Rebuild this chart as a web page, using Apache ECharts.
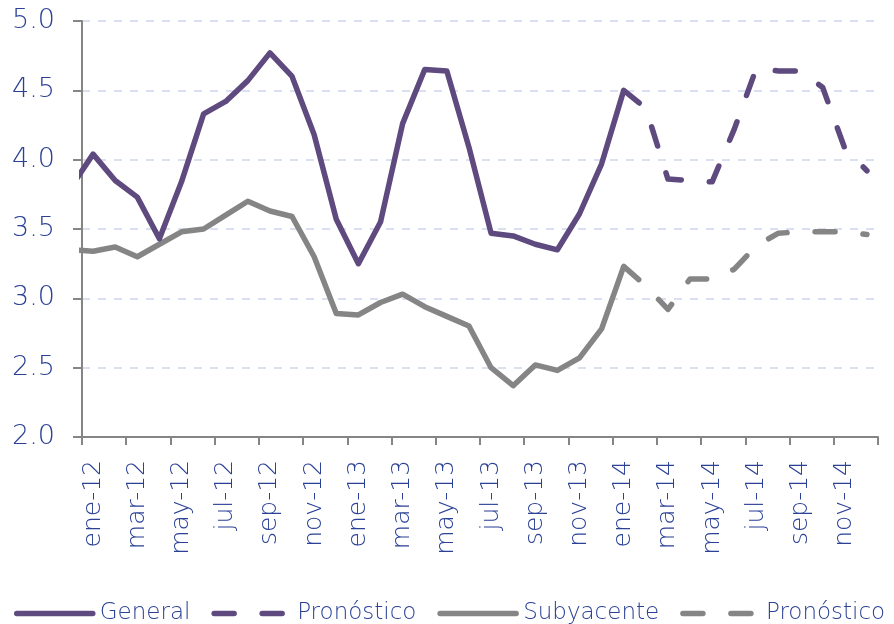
<!DOCTYPE html>
<html>
<head>
<meta charset="utf-8">
<script src="https://cdn.jsdelivr.net/npm/echarts@6/dist/echarts.min.js"></script>
<style>
  html, body { margin: 0; padding: 0; background: #fff; }
  #main { width: 894px; height: 624px; }
</style>
</head>
<body>
<div id="main"></div>
<script>
// month labels, ene-12 .. dic-14
const categories = [
  'ene-12', 'feb-12', 'mar-12', 'abr-12', 'may-12', 'jun-12', 'jul-12', 'ago-12', 'sep-12', 'oct-12', 'nov-12', 'dic-12',
  'ene-13', 'feb-13', 'mar-13', 'abr-13', 'may-13', 'jun-13', 'jul-13', 'ago-13', 'sep-13', 'oct-13', 'nov-13', 'dic-13',
  'ene-14', 'feb-14', 'mar-14', 'abr-14', 'may-14', 'jun-14', 'jul-14', 'ago-14', 'sep-14', 'oct-14', 'nov-14', 'dic-14'
];

// dic-11 value, only its tail shows at the left edge
const generalPrev = 3.80;
const subyacentePrev = 3.35;

// ene-12 .. ene-14
const general = [
  4.04, 3.85, 3.73, 3.43, 3.84, 4.33, 4.42, 4.57, 4.77, 4.60, 4.18, 3.57,
  3.25, 3.55, 4.26, 4.65, 4.64, 4.09, 3.47, 3.45, 3.39, 3.35, 3.61, 3.97,
  4.50
];
const subyacente = [
  3.34, 3.37, 3.30, 3.39, 3.48, 3.50, 3.60, 3.70, 3.63, 3.59, 3.30, 2.89,
  2.88, 2.97, 3.03, 2.94, 2.87, 2.80, 2.50, 2.37, 2.52, 2.48, 2.57, 2.78,
  3.23
];

// ene-14 .. dic-14
const generalForecast = [4.50, 4.37, 3.86, 3.85, 3.84, 4.22, 4.66, 4.64, 4.64, 4.52, 4.08, 3.92];
const subyacenteForecast = [3.23, 3.09, 2.92, 3.14, 3.14, 3.21, 3.38, 3.47, 3.48, 3.48, 3.48, 3.46];

const yTicks = [2.0, 2.5, 3.0, 3.5, 4.0, 4.5, 5.0];

const PURPLE = '#5E4A7E';
const GREY = '#858585';
const BLUE = '#2B4196';
const FONT = 'DejaVu Sans';

const forecastStart = general.length - 1;

function toPairs(values, start) {
  return values.map((v, i) => [start + i, v]);
}

const chart = echarts.init(document.getElementById('main'));

const option = {
  animation: false,
  grid: { left: 82, right: 16, top: 21, bottom: 187 },
  legend: {
    bottom: -1,
    left: 14,
    width: 880,
    padding: 0,
    itemWidth: 76,
    itemHeight: 12,
    itemGap: 21,
    data: ['General', 'Pronóstico', 'Subyacente', 'Pronóstico '],
    formatter: name => name.trim(),
    itemStyle: { opacity: 0 },
    lineStyle: { width: 5.5, cap: 'round' },
    textStyle: { fontFamily: FONT, fontWeight: 200, fontSize: 23, color: BLUE, padding: [0, 0, 0, 2] }
  },
  xAxis: [
    {
      type: 'category',
      data: categories,
      boundaryGap: true,
      axisLine: { lineStyle: { color: GREY, width: 2 } },
      axisTick: { show: true, interval: 1, length: 8, lineStyle: { color: GREY, width: 2 } },
      axisLabel: {
        interval: 1,
        rotate: 90,
        margin: 23,
        fontFamily: FONT,
        fontWeight: 200,
        fontSize: 25,
        color: BLUE
      },
      splitLine: { show: false }
    },
    {
      // hidden numeric twin of the month axis, used to place the points
      type: 'value',
      min: -0.5,
      max: categories.length - 0.5,
      show: false
    }
  ],
  yAxis: {
    type: 'value',
    min: yTicks[0],
    max: yTicks[yTicks.length - 1],
    interval: 0.5,
    axisLine: { show: true, onZero: false, lineStyle: { color: GREY, width: 2 } },
    axisTick: { show: true, length: 9, lineStyle: { color: GREY, width: 2 } },
    axisLabel: {
      margin: 27,
      fontFamily: FONT,
      fontWeight: 200,
      fontSize: 27,
      color: BLUE,
      formatter: v => v.toFixed(1)
    },
    splitLine: { lineStyle: { color: '#D9E1F1', width: 2, type: [8, 8] } }
  },
  series: [
    {
      name: 'General',
      type: 'line',
      xAxisIndex: 1,
      z: 4,
      symbol: 'none',
      clip: true,
      color: PURPLE,
      lineStyle: { width: 5.5, color: PURPLE, join: 'round' },
      data: [[-1, generalPrev]].concat(toPairs(general, 0))
    },
    {
      name: 'Pronóstico',
      type: 'line',
      xAxisIndex: 1,
      z: 4,
      symbol: 'none',
      color: PURPLE,
      lineStyle: { width: 5.5, color: PURPLE, type: [20, 28], cap: 'round', join: 'round' },
      data: toPairs(generalForecast, forecastStart)
    },
    {
      name: 'Subyacente',
      type: 'line',
      xAxisIndex: 1,
      z: 3,
      symbol: 'none',
      clip: true,
      color: GREY,
      lineStyle: { width: 5.5, color: GREY, join: 'round' },
      data: [[-1, subyacentePrev]].concat(toPairs(subyacente, 0))
    },
    {
      name: 'Pronóstico ',
      type: 'line',
      xAxisIndex: 1,
      z: 3,
      symbol: 'none',
      color: GREY,
      lineStyle: { width: 5.5, color: GREY, type: [20, 28], cap: 'round', join: 'round' },
      data: toPairs(subyacenteForecast, forecastStart)
    }
  ]
};

chart.setOption(option);
</script>
</body>
</html>
